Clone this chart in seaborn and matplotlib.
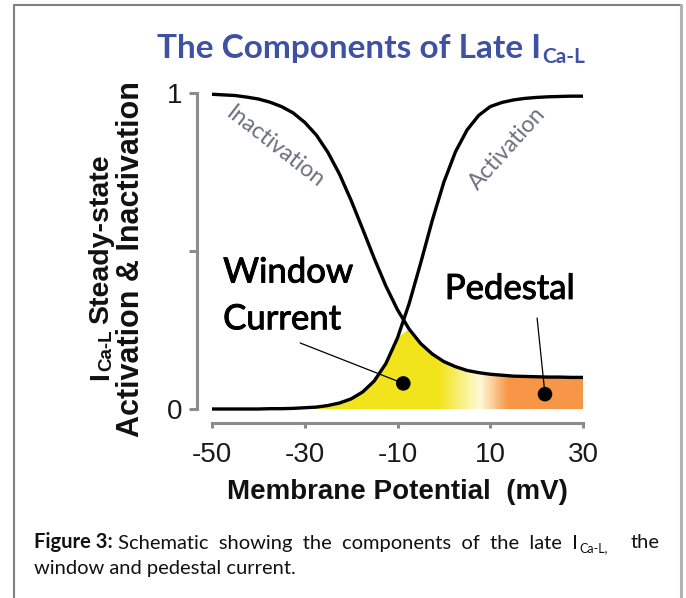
import numpy as np
import pandas as pd
import matplotlib
matplotlib.use("Agg")
import matplotlib.pyplot as plt
import matplotlib.patheffects as pe
import seaborn as sns
from matplotlib.colors import LinearSegmentedColormap
from matplotlib.lines import Line2D

# ---------------------------------------------------------
# data
# ---------------------------------------------------------
voltage = [-50, -47.5, -45, -42.5, -40, -37.5, -35, -32.5, -30, -27.5,
           -25, -22.5, -20, -17.5, -15, -12.5, -10, -7.5, -5, -2.5,
           0, 2.5, 5, 7.5, 10, 12.5, 15, 17.5, 20, 22.5, 25, 27.5, 30]

inactivation = [0.996, 0.994, 0.992, 0.987, 0.981, 0.971, 0.957, 0.937, 0.907, 0.867,
                0.812, 0.743, 0.660, 0.569, 0.476, 0.389, 0.314, 0.253, 0.207, 0.174,
                0.150, 0.134, 0.122, 0.115, 0.110, 0.107, 0.104, 0.103, 0.102, 0.101,
                0.101, 0.100, 0.100]

activation = [0.000, 0.000, 0.000, 0.000, 0.000, 0.001, 0.001, 0.002, 0.004, 0.006,
              0.011, 0.019, 0.032, 0.054, 0.089, 0.144, 0.225, 0.333, 0.462, 0.597,
              0.718, 0.814, 0.883, 0.929, 0.957, 0.970, 0.978, 0.983, 0.986, 0.988,
              0.989, 0.990, 0.990]

x_ticks = [-50, -30, -10, 10, 30]
y_ticks = [0, 0.5, 1]
y_tick_labels = ["0", "", "1"]

window_dot = [-8.75, 0.081]
pedestal_dot = [21.8, 0.047]
window_leader_start = [-31.0, 0.209]
pedestal_leader_start = [20.1, 0.288]

# gradient under the curves: yellow -> pale -> orange
grad_stops_v = [-50, -1, 8, 14, 30]
grad_colors = ["#F2E41C", "#F2E41C", "#FFF9D8", "#F79646", "#F79646"]

W, H = 686, 598
def fx(p):
    return p / W
def fy(p):
    return 1 - p / H

sns.set_theme(style="ticks")
plt.rcParams['font.family'] = ['Liberation Sans', 'DejaVu Sans']

fig = plt.figure(figsize=(W / 100, H / 100), dpi=100)
ax = fig.add_axes([fx(212), fy(409), (583 - 212) / W, (409 - 93) / H])

# ---------------------------------------------------------
# curves
# ---------------------------------------------------------
df = pd.DataFrame({"V": voltage, "Inactivation": inactivation, "Activation": activation})
long = df.melt(id_vars="V", var_name="curve", value_name="value")
sns.lineplot(data=long, x="V", y="value", hue="curve",
             palette={"Inactivation": "black", "Activation": "black"},
             estimator=None, lw=2.4, legend=False, ax=ax, zorder=3)
for ln in ax.lines:
    ln.set_clip_on(False)
    ln.set_solid_capstyle("butt")

# gradient fill under min(activation, inactivation)
lower = np.minimum(np.array(activation), np.array(inactivation))
poly = ax.fill_between(voltage, 0, lower, facecolor="none", edgecolor="none")
clip_path = poly.get_paths()[0]
poly.remove()

pos = [(v - grad_stops_v[0]) / (grad_stops_v[-1] - grad_stops_v[0]) for v in grad_stops_v]
cmap = LinearSegmentedColormap.from_list("win_ped", list(zip(pos, grad_colors)))
grad = np.linspace(0, 1, 600).reshape(1, -1)
im = ax.imshow(grad, extent=[-50, 30, 0, 1], aspect="auto", cmap=cmap,
               origin="lower", zorder=1, interpolation="bilinear")
im.set_clip_path(clip_path, transform=ax.transData)

# leaders + dots
ax.plot([window_leader_start[0], window_dot[0]], [window_leader_start[1], window_dot[1]],
        color="black", lw=0.9, zorder=4)
ax.plot([pedestal_leader_start[0], pedestal_dot[0]], [pedestal_leader_start[1], pedestal_dot[1]],
        color="black", lw=0.9, zorder=4)
sns.scatterplot(x=[window_dot[0], pedestal_dot[0]], y=[window_dot[1], pedestal_dot[1]],
                color="black", s=110, edgecolor="none", ax=ax, zorder=5)

# ---------------------------------------------------------
# axes styling
# ---------------------------------------------------------
ax.set_xlim(-50, 30)
ax.set_ylim(0, 1)
ax.set_xticks(x_ticks)
ax.set_xticklabels([str(t) for t in x_ticks])
ax.set_yticks(y_ticks)
ax.set_yticklabels(y_tick_labels)
sns.despine(ax=ax, offset={"left": 10.8, "bottom": 10.2})
ax.spines["left"].set_bounds(0, 1)
ax.spines["bottom"].set_bounds(-50, 30)
for s in ["left", "bottom"]:
    ax.spines[s].set_color("#8c8c8c")
    ax.spines[s].set_linewidth(2.2)
ax.tick_params(axis="x", length=3.8, width=2.2, color="#8c8c8c",
               labelsize=20, labelcolor="#1a1a1a", pad=10)
ax.tick_params(axis="y", length=5.8, width=2.2, color="#8c8c8c",
               labelsize=20, labelcolor="#1a1a1a", pad=5)
ax.set_xlabel("Membrane Potential  (mV)", fontsize=20, fontweight="bold",
              color="#111111", labelpad=8)
ax.set_ylabel("")

# curve labels
lab_col = "#6e6e80"
ax.text(-36.4, 0.829, "Inactivation", rotation=-38, rotation_mode="anchor",
        ha="center", va="center", fontsize=16.5, color=lab_col, family="Lato")
ax.text(13.8, 0.826, "Activation", rotation=48, rotation_mode="anchor",
        ha="center", va="center", fontsize=16.5, color=lab_col, family="Lato")

# region labels
stroke = [pe.withStroke(linewidth=0.7, foreground="black")]
for txt, xv, yv in [("Window", -47.6, 0.432), ("Current", -47.6, 0.284),
                    ("Pedestal", 0.2, 0.38)]:
    ax.text(xv, yv, txt, ha="left", va="center", fontsize=25, family="Lato",
            color="black", path_effects=stroke, zorder=6)

# ---------------------------------------------------------
# y label (two lines, with subscript)
# ---------------------------------------------------------
ylab_kw = dict(rotation=90, fontweight="bold", color="#111111", family="Liberation Sans")
fig.text(fx(131), fy(437), "Activation & Inactivation", ha="center", va="bottom",
         fontsize=22, **ylab_kw)
i_txt = fig.text(fx(101), fy(380), "I", ha="center", va="bottom", fontsize=20.5, **ylab_kw)
sub = ax.annotate("Ca-L", xy=(0.5, 1), xycoords=i_txt, xytext=(4, 1),
                  textcoords="offset points", ha="center", va="bottom",
                  fontsize=13.5, annotation_clip=False, **ylab_kw)
ax.annotate("Steady-state", xy=(0.5, 1), xycoords=(i_txt, sub), xytext=(0, 4),
            textcoords="offset points", ha="center", va="bottom", fontsize=20.5,
            annotation_clip=False, **ylab_kw)

# ---------------------------------------------------------
# title
# ---------------------------------------------------------
blue = "#3F51A3"
t_main = fig.text(fx(157), fy(58), "The Components of Late I", ha="left", va="baseline",
                  fontsize=24, fontweight="bold", color=blue, family="Lato")
ax.annotate("Ca-L", xy=(1, 0), xycoords=t_main, xytext=(1, 0), textcoords="offset points",
            ha="left", va="baseline", fontsize=15, fontweight="bold", color=blue,
            family="Lato", annotation_clip=False)

# ---------------------------------------------------------
# caption
# ---------------------------------------------------------
cap_kw = dict(fontsize=14.5, family="Lato", color="#111111")
c1 = fig.text(fx(34), fy(548), "Figure 3:", ha="left", va="baseline", fontweight="bold", **cap_kw)
c2 = ax.annotate(" Schematic  showing  the  components  of  the  late  I", xy=(1, 0), xycoords=c1,
                 ha="left", va="bottom", annotation_clip=False, **cap_kw)
c3 = ax.annotate("Ca-L,", xy=(1, 0), xycoords=c2, xytext=(1, 0), textcoords="offset points",
                 ha="left", va="baseline", fontsize=9, family="Lato", color="#111111",
                 annotation_clip=False)
fig.text(fx(660), fy(548), "the", ha="right", va="baseline", **cap_kw)
fig.text(fx(34), fy(574), "window and pedestal current.", ha="left", va="baseline", **cap_kw)

# frame around the figure panel
fig.add_artist(Line2D([fx(14), fx(14)], [0, fy(5)], transform=fig.transFigure,
                      color="#808080", lw=1.5))
fig.add_artist(Line2D([fx(14), fx(681)], [fy(5), fy(5)], transform=fig.transFigure,
                      color="#808080", lw=1.5))
fig.add_artist(Line2D([fx(681), fx(681)], [0, fy(5)], transform=fig.transFigure,
                      color="#b3b3b3", lw=2.2))

fig.savefig("out.png", dpi=100)
